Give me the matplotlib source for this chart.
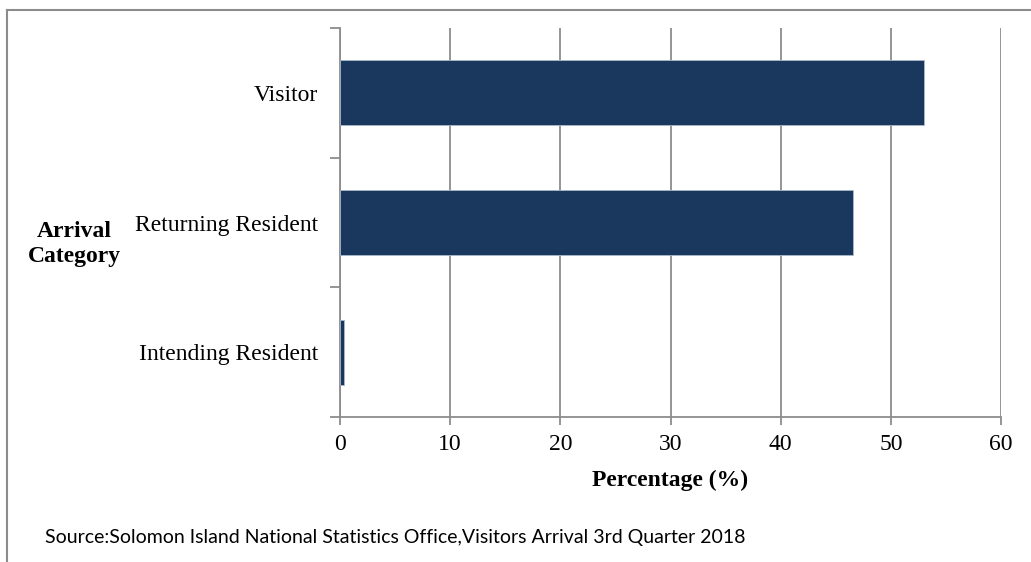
import matplotlib.pyplot as plt
from matplotlib.lines import Line2D

categories = ['Intending Resident', 'Returning Resident', 'Visitor']
percentages = [0.4, 46.6, 53.0]
x_ticks = [0, 10, 20, 30, 40, 50, 60]

grey = '#8c8c8c'
navy = '#1a375e'
serif = 'Liberation Serif'

fig = plt.figure(figsize=(10.31, 5.62), dpi=100)
ax = fig.add_axes([340 / 1031, 1 - 417 / 562, 661 / 1031, 389 / 562])

ax.barh(range(len(categories)), percentages, height=0.5, color=navy,
        edgecolor='#a9b8cc', linewidth=0.6, zorder=3)

ax.set_xlim(0, 60)
ax.set_ylim(-0.5, len(categories) - 0.5)
ax.set_xticks(x_ticks)
ax.set_xticklabels([str(t) for t in x_ticks], family=serif, fontsize=17)
ax.xaxis.grid(True, color=grey, linewidth=1.3, zorder=0)

# category labels sit between the boundary tick marks
ax.set_yticks(range(len(categories)))
ax.set_yticklabels(categories, family=serif, fontsize=17)
ax.tick_params(axis='y', length=0, pad=16)
ax.set_yticks([-0.5, 0.5, 1.5, 2.5], minor=True)
ax.tick_params(axis='y', which='minor', length=7, color=grey, width=1.3, direction='out')
ax.tick_params(axis='x', length=6, color=grey, width=1.3, direction='out', pad=6)

for s in ['top', 'right']:
    ax.spines[s].set_visible(False)
for s in ['left', 'bottom']:
    ax.spines[s].set_color(grey)
    ax.spines[s].set_linewidth(1.3)

ax.set_xlabel('Percentage (%)', family=serif, fontsize=17,
              fontweight='bold', labelpad=11)
fig.text(74 / 1031, 1 - 244 / 562, 'Arrival\nCategory', family=serif,
         fontsize=17, fontweight='bold', ha='center', va='center', linespacing=1.2)

fig.text(45 / 1031, 1 - 537 / 562,
         'Source:Solomon Island National Statistics Office,Visitors Arrival 3rd Quarter 2018',
         family='Lato', fontsize=14, ha='left', va='center')

# outer frame, only the top and left edges show
fig.add_artist(Line2D([7 / 1031, 7 / 1031], [0, 1 - 10 / 562], color=grey,
                      linewidth=1.5, transform=fig.transFigure))
fig.add_artist(Line2D([7 / 1031, 1], [1 - 10 / 562, 1 - 10 / 562], color=grey,
                      linewidth=1.5, transform=fig.transFigure))

fig.savefig('out.png', dpi=100)
